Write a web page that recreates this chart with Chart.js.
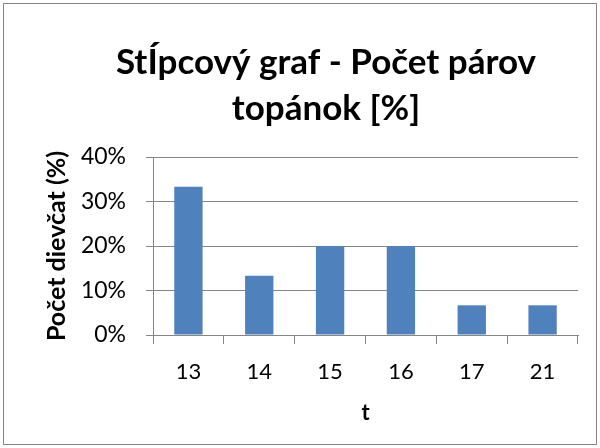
<!DOCTYPE html>
<html>
<head>
<meta charset="utf-8">
<script src="https://cdn.jsdelivr.net/npm/chart.js@4/dist/chart.umd.min.js"></script>
<style>
  html, body { margin: 0; padding: 0; background: #fff; }
  #wrap { width: 600px; height: 448px; position: relative; }
</style>
</head>
<body>
<div id="wrap"><canvas id="chart" width="600" height="448"></canvas></div>
<script>
// data
const categories = ['13', '14', '15', '16', '17', '21'];
const shares = [0.3333, 0.1333, 0.2, 0.2, 0.0667, 0.0667];
const yTicks = [0, 0.1, 0.2, 0.3, 0.4];

const chartTitle = ['StÍpcový graf - Počet párov', 'topánok [%]'];
const xTitle = 't';
const yTitle = 'Počet dievčat (%)';

const FONT = 'Lato, Calibri, Carlito, sans-serif';
const GRID = '#868686';

// outer frame + title drawn Excel style (title is centred a bit right of the canvas middle)
const framePlugin = {
    id: 'frame',
    beforeDraw(chart) {
        const c = chart.ctx;
        c.save();
        c.fillStyle = '#fff';
        c.fillRect(0, 0, chart.width, chart.height);
        c.strokeStyle = GRID;
        c.lineWidth = 1;
        c.strokeRect(3.5, 3.5, chart.width - 7, chart.height - 7);
        c.fillStyle = '#000';
        c.font = 'bold 35px ' + FONT;
        c.textAlign = 'center';
        c.textBaseline = 'alphabetic';
        c.fillText(chartTitle[0], 326, 74);
        c.fillText(chartTitle[1], 326, 120);
        c.restore();
    }
};

new Chart(document.getElementById('chart'), {
    type: 'bar',
    data: {
        labels: categories,
        datasets: [{
            data: shares,
            backgroundColor: '#4F81BD',
            borderWidth: 0,
            barPercentage: 0.4,
            categoryPercentage: 1.0
        }]
    },
    options: {
        responsive: false,
        animation: false,
        layout: { padding: { left: 42, right: 22, top: 157, bottom: 18 } },
        plugins: {
            legend: { display: false },
            tooltip: { enabled: false },
            title: { display: false }
        },
        scales: {
            x: {
                offset: true,
                grid: {
                    offset: true,
                    drawOnChartArea: false,
                    drawTicks: true,
                    tickLength: 9,
                    color: GRID
                },
                border: { color: GRID },
                ticks: { color: '#000', font: { family: FONT, size: 22 }, padding: 15 },
                title: {
                    display: true,
                    text: xTitle,
                    color: '#000',
                    font: { family: FONT, size: 22, weight: 'bold' },
                    padding: { top: 10 }
                },
                afterFit(s) { s.height = 448 - 18 - 335; }
            },
            y: {
                min: 0,
                max: 0.4,
                afterBuildTicks(s) { s.ticks = yTicks.map(v => ({ value: v })); },
                grid: { color: GRID, tickLength: 7 },
                border: { color: GRID },
                ticks: {
                    color: '#000',
                    font: { family: FONT, size: 23 },
                    padding: 20,
                    callback: v => Math.round(v * 100) + '%'
                },
                title: {
                    display: true,
                    text: yTitle,
                    color: '#000',
                    font: { family: FONT, size: 25, weight: 'bold' },
                    padding: { top: 0, bottom: 0 }
                },
                afterFit(s) { s.width = 153 - 42; }
            }
        }
    },
    plugins: [framePlugin]
});
</script>
</body>
</html>
